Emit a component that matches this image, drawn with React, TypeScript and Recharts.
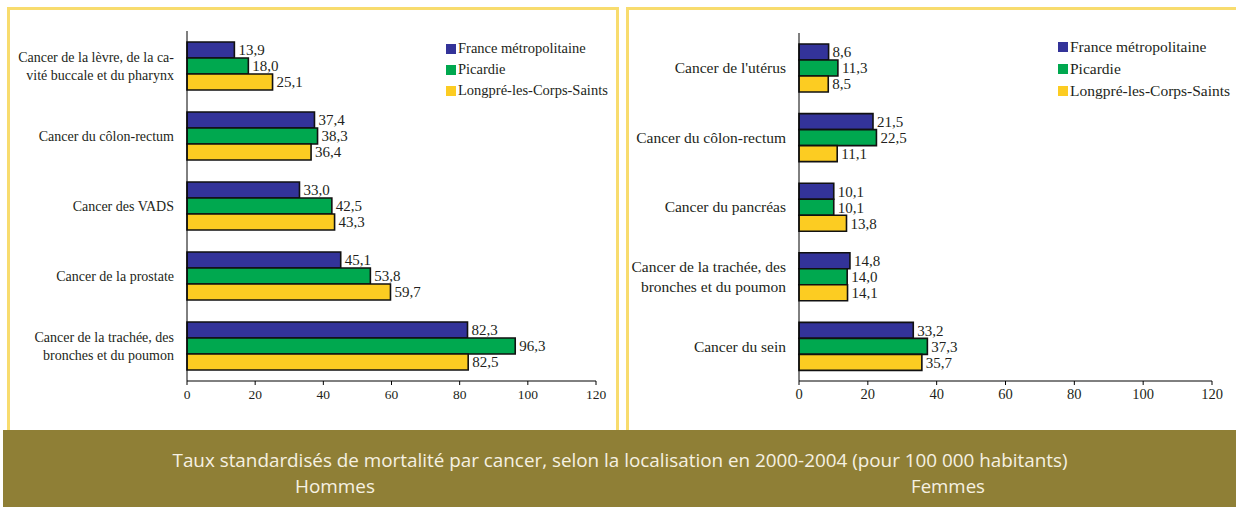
import { Bar, BarChart, LabelList, XAxis, YAxis } from "recharts";

const hommesCats = [
  "Cancer de la lèvre, de la ca-\nvité buccale et du pharynx",
  "Cancer du côlon-rectum",
  "Cancer des VADS",
  "Cancer de la prostate",
  "Cancer de la trachée, des\nbronches et du poumon",
];
const hommesFrance = [13.9, 37.4, 33.0, 45.1, 82.3];
const hommesPicardie = [18.0, 38.3, 42.5, 53.8, 96.3];
const hommesLongpre = [25.1, 36.4, 43.3, 59.7, 82.5];

const femmesCats = [
  "Cancer de l'utérus",
  "Cancer du côlon-rectum",
  "Cancer du pancréas",
  "Cancer de la trachée, des\nbronches et du poumon",
  "Cancer du sein",
];
const femmesFrance = [8.6, 21.5, 10.1, 14.8, 33.2];
const femmesPicardie = [11.3, 22.5, 10.1, 14.0, 37.3];
const femmesLongpre = [8.5, 11.1, 13.8, 14.1, 35.7];

const seriesNames = ["France métropolitaine", "Picardie", "Longpré-les-Corps-Saints"];
const seriesColors = ["#333399", "#00a84f", "#fccc22"];
const xTicks = [0, 20, 40, 60, 80, 100, 120];

const title =
  "Taux standardisés de mortalité par cancer, selon la localisation en 2000-2004 (pour 100 000 habitants)";

const serif = "'Liberation Serif', 'Times New Roman', serif";
const ink = "#231f20";
const panelBorder = "#f8dc6e";

const fmt = (v: number) => v.toFixed(1).replace(".", ",");

function CatTick({ x, y, payload, size }: any) {
  const lines = String(payload.value).split("\n");
  const lh = size * 1.3;
  const start = -((lines.length - 1) * lh) / 2;
  return (
    <text x={x - 5} y={y} textAnchor="end" fontFamily={serif} fontSize={size} fill={ink}>
      {lines.map((l, i) => (
        <tspan key={i} x={x - 5} y={y + start + i * lh} dy="0.35em">
          {l}
        </tspan>
      ))}
    </text>
  );
}

function NumTick({ x, y, payload, size }: any) {
  return (
    <text x={x} y={y + 12} textAnchor="middle" fontFamily={serif} fontSize={size} fill={ink}>
      {payload.value}
    </text>
  );
}

function LegendBox({ left, top, size, row }: any) {
  return (
    <div style={{ position: "absolute", left, top, fontFamily: serif, fontSize: size, color: ink }}>
      {seriesNames.map((n, i) => (
        <div key={n} style={{ display: "flex", alignItems: "center", height: row, whiteSpace: "nowrap" }}>
          <span style={{ width: 10, height: 10, background: seriesColors[i], marginRight: 2 }} />
          <span>{n}</span>
        </div>
      ))}
    </div>
  );
}

function Panel({ cats, france, picardie, longpre, width, yWidth, top, right, catSize, tickSize }: any) {
  const data = cats.map((c: string, i: number) => ({
    name: c,
    france: france[i],
    picardie: picardie[i],
    longpre: longpre[i],
  }));
  const keys = ["france", "picardie", "longpre"];
  return (
    <BarChart
      layout="vertical"
      width={width}
      height={430}
      data={data}
      margin={{ top, right, left: 0, bottom: 0 }}
      barSize={16}
      barGap={0}
      style={{ fontFamily: serif }}
    >
      <XAxis
        type="number"
        domain={[0, 120]}
        ticks={xTicks}
        height={49}
        stroke="#000"
        tickSize={4}
        tick={<NumTick size={tickSize} />}
      />
      <YAxis
        type="category"
        dataKey="name"
        width={yWidth}
        stroke="#000"
        tickLine={false}
        tick={<CatTick size={catSize} />}
        interval={0}
      />
      {keys.map((k, i) => (
        <Bar
          key={k}
          dataKey={k}
          name={seriesNames[i]}
          fill={seriesColors[i]}
          stroke="#111"
          strokeWidth={1.6}
          isAnimationActive={false}
        >
          <LabelList
            dataKey={k}
            position="right"
            offset={4}
            formatter={(v: any) => fmt(Number(v))}
            style={{ fontFamily: serif, fontSize: 15, fill: ink }}
          />
        </Bar>
      ))}
    </BarChart>
  );
}

export default function App() {
  return (
    <div style={{ position: "absolute", left: 0, top: 0, width: 1236, height: 507, background: "#fff", overflow: "hidden" }}>
      <div
        style={{
          position: "absolute",
          left: 7,
          top: 7,
          width: 606,
          height: 430,
          border: `3px solid ${panelBorder}`,
        }}
      />
      <div
        style={{
          position: "absolute",
          left: 626,
          top: 7,
          width: 620,
          height: 430,
          border: `3px solid ${panelBorder}`,
        }}
      />
      <div style={{ position: "absolute", left: 0, top: 0 }}>
        <Panel
          cats={hommesCats}
          france={hommesFrance}
          picardie={hommesPicardie}
          longpre={hommesLongpre}
          width={617}
          yWidth={187}
          top={31}
          right={21}
          catSize={14}
          tickSize={13.5}
        />
      </div>
      <LegendBox left={446} top={38} size={14.5} row={21} />
      <div style={{ position: "absolute", left: 627, top: 0 }}>
        <Panel
          cats={femmesCats}
          france={femmesFrance}
          picardie={femmesPicardie}
          longpre={femmesLongpre}
          width={609}
          yWidth={172}
          top={33}
          right={24}
          catSize={15.5}
          tickSize={14.5}
        />
      </div>
      <LegendBox left={1058} top={36} size={15.5} row={22} />
      <svg
        width={1233}
        height={77}
        style={{ position: "absolute", left: 3, top: 430, background: "#8f7f36" }}
      >
        <text
          x={617}
          y={37}
          textAnchor="middle"
          fontFamily="'Open Sans', sans-serif"
          fontSize={17.5}
          fill="#f6f1e2"
          textLength={895}
          lengthAdjust="spacingAndGlyphs"
        >
          {title}
        </text>
        <text
          x={332}
          y={63}
          textAnchor="middle"
          fontFamily="'Open Sans', sans-serif"
          fontSize={17.5}
          fill="#f6f1e2"
          textLength={80}
          lengthAdjust="spacingAndGlyphs"
        >
          Hommes
        </text>
        <text
          x={945}
          y={63}
          textAnchor="middle"
          fontFamily="'Open Sans', sans-serif"
          fontSize={17.5}
          fill="#f6f1e2"
          textLength={74}
          lengthAdjust="spacingAndGlyphs"
        >
          Femmes
        </text>
      </svg>
    </div>
  );
}
